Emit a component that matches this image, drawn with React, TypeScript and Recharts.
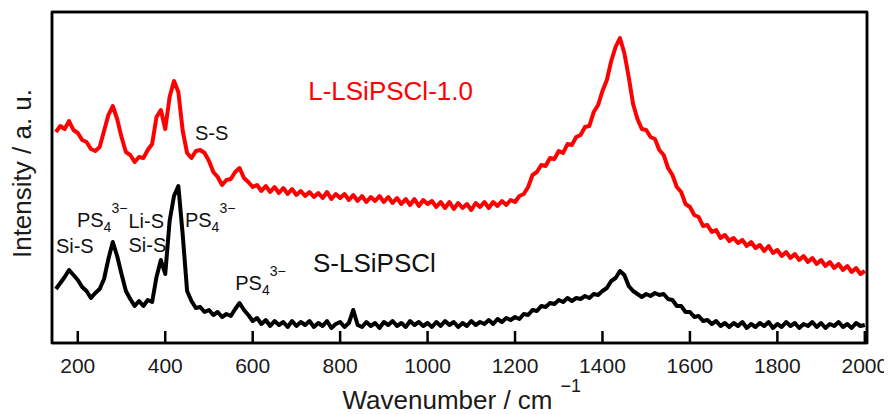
import React from 'react';
import { LineChart, Line, XAxis, YAxis, ReferenceDot, ReferenceLine } from 'recharts';

// Raman shift (cm^-1)
const wavenumbers: number[] = [
  150, 160, 170, 180, 190, 200, 210, 220, 230, 240, 250, 260, 270, 280, 290,
  300, 310, 320, 330, 340, 350, 360, 370, 380, 390, 400, 410, 420, 430, 440,
  450, 460, 470, 480, 490, 500, 510, 520, 530, 540, 550, 560, 570, 580, 590,
  600, 610, 620, 630, 640, 650, 660, 670, 680, 690, 700, 710, 720, 730, 740,
  750, 760, 770, 780, 790, 800, 810, 820, 830, 840, 850, 860, 870, 880, 890,
  900, 910, 920, 930, 940, 950, 960, 970, 980, 990, 1000, 1010, 1020, 1030, 1040,
  1050, 1060, 1070, 1080, 1090, 1100, 1110, 1120, 1130, 1140, 1150, 1160, 1170, 1180, 1190,
  1200, 1210, 1220, 1230, 1240, 1250, 1260, 1270, 1280, 1290, 1300, 1310, 1320, 1330, 1340,
  1350, 1360, 1370, 1380, 1390, 1400, 1410, 1420, 1430, 1440, 1450, 1460, 1470, 1480, 1490,
  1500, 1510, 1520, 1530, 1540, 1550, 1560, 1570, 1580, 1590, 1600, 1610, 1620, 1630, 1640,
  1650, 1660, 1670, 1680, 1690, 1700, 1710, 1720, 1730, 1740, 1750, 1760, 1770, 1780, 1790,
  1800, 1810, 1820, 1830, 1840, 1850, 1860, 1870, 1880, 1890, 1900, 1910, 1920, 1930, 1940,
  1950, 1960, 1970, 1980, 1990, 2000,
];

// L-LSiPSCl-1.0 (red, offset upward)
const redIntensity: number[] = [
  211, 217, 214, 222, 213, 210, 203, 201, 194, 192, 196, 212, 228, 237, 224,
  206, 191, 188, 181, 186, 185, 193, 199, 226, 233, 214, 246, 262, 251, 212,
  190, 185, 192, 193, 190, 182, 171, 166, 158, 163, 164, 171, 175, 165, 161,
  156, 158, 152, 157, 151, 156, 150, 155, 149, 154, 148, 152, 147, 151, 146,
  150, 145, 151, 144, 149, 145, 149, 143, 148, 142, 147, 141, 146, 142, 147,
  141, 146, 140, 145, 139, 144, 138, 144, 137, 143, 139, 142, 136, 141, 135,
  141, 134, 140, 135, 139, 133, 140, 136, 141, 135, 141, 137, 142, 138, 143,
  141, 147, 149, 156, 168, 171, 178, 177, 185, 184, 192, 190, 199, 198, 206,
  208, 216, 217, 231, 238, 252, 263, 282, 296, 305, 290, 266, 239, 224, 214,
  213, 206, 204, 193, 188, 175, 168, 156, 151, 139, 136, 128, 126, 117, 118,
  111, 113, 105, 108, 102, 105, 100, 103, 97, 101, 95, 98, 92, 97, 90,
  93, 87, 91, 85, 89, 83, 87, 81, 85, 79, 83, 77, 81, 75, 79,
  73, 77, 71, 75, 69, 72,
];

// S-LSiPSCl (black)
const blackIntensity: number[] = [
  54, 60, 66, 73, 68, 63, 56, 52, 45, 50, 54, 64, 84, 101, 87,
  69, 52, 44, 37, 42, 37, 43, 41, 66, 83, 69, 122, 147, 157, 108,
  52, 42, 35, 36, 31, 33, 28, 31, 26, 29, 27, 34, 40, 33, 28,
  22, 25, 19, 23, 17, 22, 18, 21, 16, 22, 17, 21, 18, 22, 16,
  20, 17, 22, 15, 19, 21, 16, 20, 33, 18, 16, 21, 17, 20, 15,
  21, 18, 22, 17, 20, 16, 22, 18, 21, 17, 20, 16, 21, 17, 22,
  18, 21, 16, 20, 17, 22, 18, 21, 19, 23, 19, 24, 21, 25, 23,
  26, 24, 29, 28, 33, 32, 37, 36, 40, 39, 43, 41, 45, 42, 45,
  44, 47, 45, 49, 48, 52, 55, 62, 65, 72, 68, 57, 52, 49, 46,
  49, 47, 50, 48, 49, 44, 43, 37, 37, 31, 31, 26, 27, 22, 23,
  19, 22, 17, 20, 16, 20, 17, 21, 15, 19, 16, 20, 17, 21, 15,
  19, 16, 21, 17, 20, 15, 19, 17, 21, 16, 20, 15, 19, 17, 21,
  16, 19, 15, 20, 17, 18,
];

const xTicks: number[] = [200, 400, 600, 800, 1000, 1200, 1400, 1600, 1800, 2000];
const X_DOMAIN: [number, number] = [141, 2005];
const Y_DOMAIN: [number, number] = [0, 331];

type Annotation = { x: number; y: number; text: string; sub?: string; sup?: string; color: string; size: number };

const annotations: Annotation[] = [
  { x: 727, y: 243, text: 'L-LSiPSCl-1.0', color: '#ff0000', size: 26 },
  { x: 738, y: 71, text: 'S-LSiPSCl', color: '#111111', size: 26 },
  { x: 468, y: 203, text: 'S-S', color: '#111111', size: 20 },
  { x: 150, y: 90, text: 'Si-S', color: '#111111', size: 20 },
  { x: 198, y: 116, text: 'PS', sub: '4', sup: '3−', color: '#111111', size: 20 },
  { x: 316, y: 115, text: 'Li-S', color: '#111111', size: 20 },
  { x: 316, y: 91, text: 'Si-S', color: '#111111', size: 20 },
  { x: 445, y: 116, text: 'PS', sub: '4', sup: '3−', color: '#111111', size: 20 },
  { x: 560, y: 53, text: 'PS', sub: '4', sup: '3−', color: '#111111', size: 20 },
];

const rows = wavenumbers.map((w, i) => ({ w, red: redIntensity[i], black: blackIntensity[i] }));

const FONT = 'Liberation Sans, Arial, sans-serif';
const FRAME = '#000000';
const MARGIN = { top: 4, right: 25, bottom: 0, left: 43 };
const TICK = 12;

const XTick = (props: any) => {
  const { x, y, payload } = props;
  return (
    <text x={x} y={y + TICK + 30} textAnchor="middle" fontSize={21} fill="#1a1a1a" fontFamily={FONT}>
      {payload.value}
    </text>
  );
};

const XTitle = (props: any) => {
  const vb = props.viewBox || {};
  const cx = vb.x + vb.width / 2;
  return (
    <g>
      <rect x={vb.x} y={MARGIN.top} width={vb.width} height={vb.y - MARGIN.top} fill="none" stroke={FRAME} strokeWidth={2.5} />
      <text x={cx - 117} y={vb.y + 66} fontSize={26} fill="#1a1a1a" fontFamily={FONT} textAnchor="start">
        Wavenumber / cm
        <tspan fontSize={18} dx={8} dy={-17}>−1</tspan>
      </text>
    </g>
  );
};

const YTitle = (props: any) => {
  const vb = props.viewBox || {};
  const x = vb.x + vb.width - 21;
  const y = vb.y + vb.height / 2 - 4;
  return (
    <text x={x} y={y} transform={`rotate(-90, ${x}, ${y})`} textAnchor="middle" fontSize={26} fill="#1a1a1a" fontFamily={FONT}>
      Intensity / a. u.
    </text>
  );
};

const AnnotText = ({ cx, cy, a }: any) => (
  <text x={cx} y={cy} fontSize={a.size} fill={a.color} fontFamily={FONT} textAnchor="start">
    {a.text}
    {a.sub ? <tspan fontSize={14} dy={5}>{a.sub}</tspan> : null}
    {a.sup ? <tspan fontSize={14} dy={-19}>{a.sup}</tspan> : null}
  </text>
);

const axisLine = { stroke: FRAME, strokeWidth: 2.5 };

export default function App() {
  return (
    <div style={{ width: 884, height: 406 }}>
      <LineChart width={884} height={406} data={rows} margin={MARGIN}>
        <XAxis
          dataKey="w"
          type="number"
          domain={X_DOMAIN}
          ticks={xTicks}
          interval={0}
          height={71}
          tickLine={{ stroke: FRAME, strokeWidth: 2.5 }}
          tickSize={-TICK}
          tickMargin={0}
          tick={<XTick />}
          axisLine={axisLine}
          allowDataOverflow
          label={<XTitle />}
        />
        <YAxis
          type="number"
          domain={Y_DOMAIN}
          width={1}
          tick={false}
          tickLine={false}
          axisLine={axisLine}
          allowDataOverflow
          label={<YTitle />}
        />
        <ReferenceLine x={X_DOMAIN[1]} stroke={FRAME} strokeWidth={2.5} ifOverflow="visible" />
        <ReferenceLine y={Y_DOMAIN[1]} stroke={FRAME} strokeWidth={2.5} ifOverflow="visible" />
        <Line dataKey="red" stroke="#ff0000" strokeWidth={4} strokeLinejoin="round" dot={false} isAnimationActive={false} />
        <Line dataKey="black" stroke="#000000" strokeWidth={4} strokeLinejoin="round" dot={false} isAnimationActive={false} />
        {annotations.map((a, i) => (
          <ReferenceDot
            key={i}
            x={a.x}
            y={a.y}
            r={0}
            ifOverflow="visible"
            shape={(p: any) => <AnnotText cx={p.cx} cy={p.cy} a={a} />}
          />
        ))}
      </LineChart>
    </div>
  );
}
